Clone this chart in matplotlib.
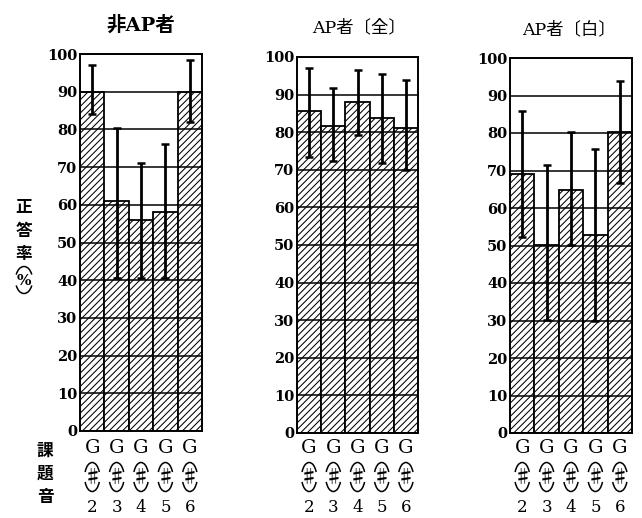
import matplotlib
matplotlib.use("Agg")
import matplotlib.pyplot as plt
from matplotlib.patches import Arc
from matplotlib.transforms import ScaledTranslation
import numpy as np

plt.rcParams['hatch.linewidth'] = 0.75

# ---- data ----
categories = ['2', '3', '4', '5', '6']
titles = ['非AP者', 'AP者〔全〕', 'AP者〔白〕']

nonap_mean = [90, 61, 56, 58, 90]
nonap_upper = [97, 80.5, 71, 76, 98.3]
nonap_lower = [84, 40.5, 40.5, 40.5, 82]

apall_mean = [85.6, 81.6, 88.1, 83.7, 81.0]
apall_upper = [97.0, 91.7, 96.5, 95.5, 93.9]
apall_lower = [73.5, 72.4, 79.3, 71.8, 70.0]

apw_mean = [69.2, 50.2, 64.7, 52.8, 80.2]
apw_upper = [86.0, 71.6, 80.3, 75.8, 93.8]
apw_lower = [52.2, 30.2, 50.1, 30.0, 66.7]

yticks = list(range(0, 101, 10))

panels = [
    (nonap_mean, nonap_lower, nonap_upper),
    (apall_mean, apall_lower, apall_upper),
    (apw_mean, apw_lower, apw_upper),
]

W, H = 642, 518
fig = plt.figure(figsize=(W / 100, H / 100), dpi=100)

# axes boxes in pixels: (left, right, top, bottom)
boxes = [(80, 202, 54, 431), (297, 418, 57, 433), (510, 632, 58, 433)]
title_pos = [(141, 25), (359, 28), (569, 30)]

serif = 'DejaVu Serif'
cjk = 'Noto Sans CJK JP'


def paren_arcs(x, y, base_tr, w_in=0.15, h_in=0.29, lw=1.1):
    """Top and bottom arcs (vertical parentheses) around a glyph."""
    tr = fig.dpi_scale_trans + ScaledTranslation(x, y, base_tr)
    for t1, t2 in [(35, 145), (215, 325)]:
        a = Arc((0, 0), w_in, h_in, theta1=t1, theta2=t2, transform=tr,
                color='black', linewidth=lw, clip_on=False)
        fig.add_artist(a)


for i, ((mean, lo, up), (l, r, t, b)) in enumerate(zip(panels, boxes)):
    ax = fig.add_axes([l / W, 1 - b / H, (r - l) / W, (b - t) / H])
    x = np.arange(len(categories))
    mean = np.array(mean)
    yerr = [mean - np.array(lo), np.array(up) - mean]
    ax.bar(x, mean, width=1.0, color='white', edgecolor='black',
           hatch='/////', linewidth=1.3, zorder=1)
    ax.errorbar(x, mean, yerr=yerr, fmt='none', ecolor='black',
                elinewidth=2.0, capsize=3, capthick=1.8, zorder=4)
    ax.set_xlim(-0.5, len(categories) - 0.5)
    ax.set_ylim(0, 100)
    ax.set_yticks(yticks)
    ax.set_yticklabels([str(v) for v in yticks], fontfamily=serif,
                       fontweight='bold', fontsize=10.5)
    ax.set_xticks([])
    ax.set_axisbelow(False)
    ax.yaxis.grid(True, color='black', linewidth=1.1)
    ax.tick_params(axis='y', length=0, pad=2)
    for s in ax.spines.values():
        s.set_linewidth(1.4)

    xt = ax.get_xaxis_transform()
    ax_h_px = b - t

    def ay(py):
        return (b - py) / ax_h_px
    for xi, c in zip(x, categories):
        ax.text(xi, ay(448), 'G', transform=xt, ha='center', va='center',
                fontfamily=serif, fontsize=14, clip_on=False)
        ax.text(xi, ay(478), '♯', transform=xt, ha='center', va='center',
                fontfamily=[cjk, 'DejaVu Sans'], fontweight='bold',
                fontsize=13, clip_on=False)
        paren_arcs(xi, ay(477), xt)
        ax.text(xi, ay(507), c, transform=xt, ha='center', va='center',
                fontfamily=serif, fontsize=12, clip_on=False)

    tx, ty = title_pos[i]
    fig.text(tx / W, 1 - ty / H, titles[i], ha='center', va='center',
             fontsize=14 if i == 0 else 12.5, fontfamily=[serif, cjk],
             fontweight='bold' if i == 0 else 'normal')

# vertical y-axis label 正答率(%)
for ch, py in zip(['正', '答', '率'], [206, 231, 254]):
    fig.text(24 / W, 1 - py / H, ch, ha='center', va='center',
             fontfamily=cjk, fontweight='bold', fontsize=12)
fig.text(24 / W, 1 - 281 / H, '%', ha='center', va='center',
         fontfamily=serif, fontsize=11, fontweight='bold')
paren_arcs(24 / W, 1 - 280 / H, fig.transFigure, w_in=0.17, h_in=0.27)

# vertical x label 課題音
for ch, py in zip(['課', '題', '音'], [451, 474, 497]):
    fig.text(45 / W, 1 - py / H, ch, ha='center', va='center',
             fontfamily=cjk, fontweight='bold', fontsize=12)

fig.savefig('out.png', dpi=100)
